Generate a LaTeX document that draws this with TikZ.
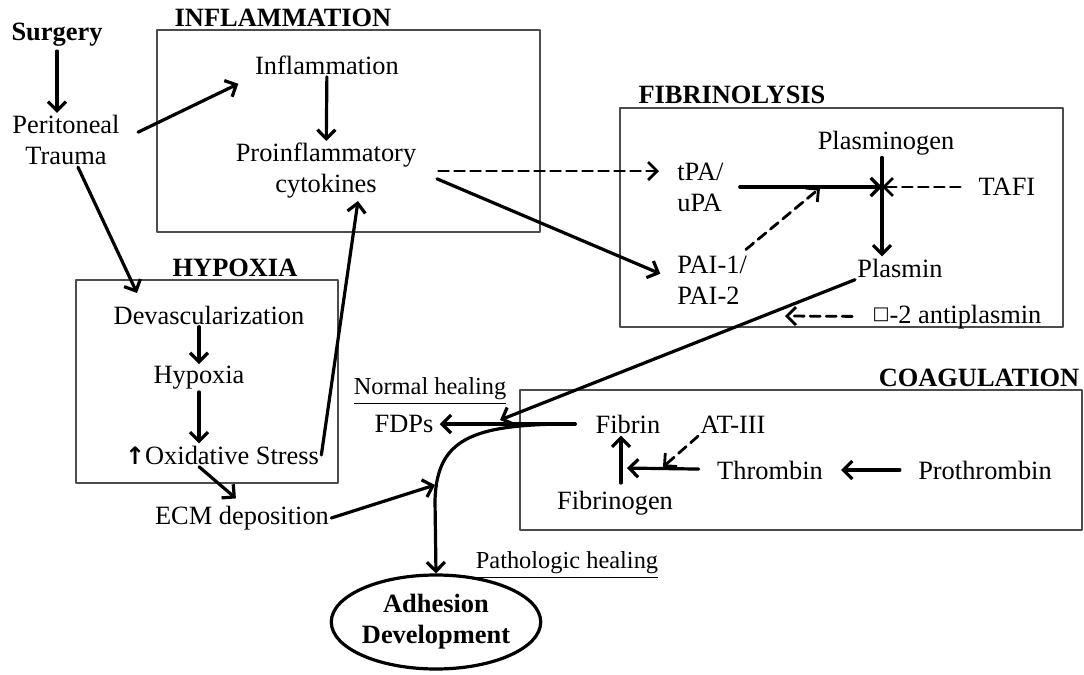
\documentclass[tikz,border=0pt]{standalone}
\usepackage{fontspec}
\setmainfont{Liberation Serif}
\newfontfamily\symfont{DejaVu Sans}
\usetikzlibrary{arrows.meta,shapes.geometric}

\begin{document}
\begin{tikzpicture}[x=0.5pt,y=-0.5pt,line cap=round,line join=round,>={Straight Barb[length=4.5pt,width=9pt]},
  txt/.style={font=\fontsize{13.2}{15.5}\selectfont,align=center,inner sep=1pt},
  ttl/.style={txt,font=\fontsize{13.2}{15.5}\selectfont\bfseries},
  uln/.style={txt,font=\fontsize{12.2}{14}\selectfont},
  grp/.style={draw=black!70,line width=0.8pt},
  arr/.style={->,line width=1.6pt},
  dsh/.style={arr,line width=1.4pt,dash pattern=on 5pt off 3pt}]
\useasboundingbox (0,0) rectangle (1084,675);
\draw[grp] (157,30) rectangle (540,232);
\draw[grp] (620,108) rectangle (1063,327);
\draw[grp] (76,280) rectangle (338,483);
\draw[grp] (520,390) rectangle (1082,530);
\node[ttl] (surg) at (57,35) {Surgery};
\node[txt] (trauma) at (66,140) {Peritoneal\\Trauma};
\node[ttl] (inflT) at (283,18) {INFLAMMATION};
\node[txt] (infl) at (327,65) {Inflammation};
\node[txt] (cyto) at (326,171) {Proinflammatory\\cytokines};
\node[ttl] (fibT) at (732,95) {FIBRINOLYSIS};
\node[txt,anchor=west,align=left] (tpa) at (675,187) {tPA/\\uPA};
\node[txt,anchor=west,align=left] (pai) at (675,280) {PAI-1/\\PAI-2};
\node[txt] (plg) at (886,143) {Plasminogen};
\node[txt] (tafi) at (1007,187) {TAFI};
\node[txt] (plm) at (900,268) {Plasmin};
\node[txt] (apl) at (957,317) {\raisebox{0.3ex}{\symfont\bfseries\fontsize{9}{9}\selectfont □}-2 antiplasmin};
\node[ttl] (hypT) at (235,268) {HYPOXIA};
\node[txt] (devas) at (209,315) {Devascularization};
\node[txt] (hyp) at (199,378) {Hypoxia};
\node[txt] (oxid) at (222,455) {{\symfont\bfseries\fontsize{12}{12}\selectfont ↑}Oxidative Stress};
\node[txt] (ecm) at (242,518) {ECM deposition};
\node[uln] (normal) at (430,391) {\underline{Normal healing}};
\node[txt] (fdp) at (404,424) {FDPs};
\node[txt] (fibrin) at (628,424) {Fibrin};
\node[txt] (at3) at (733,425) {AT-III};
\node[ttl] (coagT) at (979,378) {COAGULATION};
\node[txt] (thr) at (770,470) {Thrombin};
\node[txt] (pthr) at (985,470) {Prothrombin};
\node[txt] (fibgen) at (615,503) {Fibrinogen};
\node[uln] (patho) at (567,565) {\underline{Pathologic healing}};
\node[ttl,ellipse,draw,line width=1.6pt,inner sep=0pt,minimum width=103pt,minimum height=47pt] (adh) at (436,622) {Adhesion\\Development};
\coordinate (jn) at (882,187);
\coordinate (mid) at (820,188);
\coordinate (aplend) at (785,316);
\coordinate (plmend) at (500,420);
\coordinate (hypin) at (137,293);
\coordinate (ecmend) at (435,485);
\coordinate (fj) at (621,468);
\coordinate (atend) at (663,467);
\draw[arr,shorten <=1pt] (surg.south) -- (surg.south |- trauma.north);
\draw[arr,shorten <=9pt,shorten >=8pt] (trauma.east) -- (infl.south west);
\draw[arr] (infl) -- (cyto);
\draw[dsh,shorten <=10pt,shorten >=8pt] (cyto.east) -- (cyto.east -| tpa.west);
\draw[arr,shorten <=10pt,shorten >=8pt] (cyto.east) -- (pai.west);
\draw[arr,shorten <=7pt] (tpa) -- (jn);
\draw[dsh,shorten <=8pt] (tafi) -- (jn);
\draw[arr] (jn |- plg.south) -- (jn |- plm.north);
\draw[dsh,shorten <=3pt] ([xshift=-4pt]pai.north east) -- (mid);
\draw[dsh,shorten <=9pt] (apl) -- (aplend);
\draw[arr] (plm.south west) -- (plmend);
\draw[arr,shorten <=9pt,shorten >=2pt] (fibrin) -- (fdp);
\draw[arr] ([xshift=-11pt]fibrin.west) .. controls (470,424) and (437,440) .. (435,500) -- (adh.north);
\draw[arr] (ecm.east) -- (ecmend);
\draw[arr,shorten >=4pt] (hyp |- oxid.south) -- (ecm.north);
\draw[arr] (oxid.east) -- ([xshift=16pt]cyto.south);
\draw[arr] ([xshift=6pt]trauma.south) -- (hypin);
\draw[arr] (hyp |- devas.south) -- (hyp);
\draw[arr] (hyp) -- (hyp |- oxid.north);
\draw[arr] ([yshift=-7.5pt]fj) -- (fj |- fibrin.south);
\draw[arr,shorten <=8pt,shorten >=3pt] (thr) -- (fj);
\draw[dsh] (at3.south west) -- (atend);
\draw[arr,shorten <=8pt,shorten >=8pt] (pthr) -- (thr);
\end{tikzpicture}
\end{document}
